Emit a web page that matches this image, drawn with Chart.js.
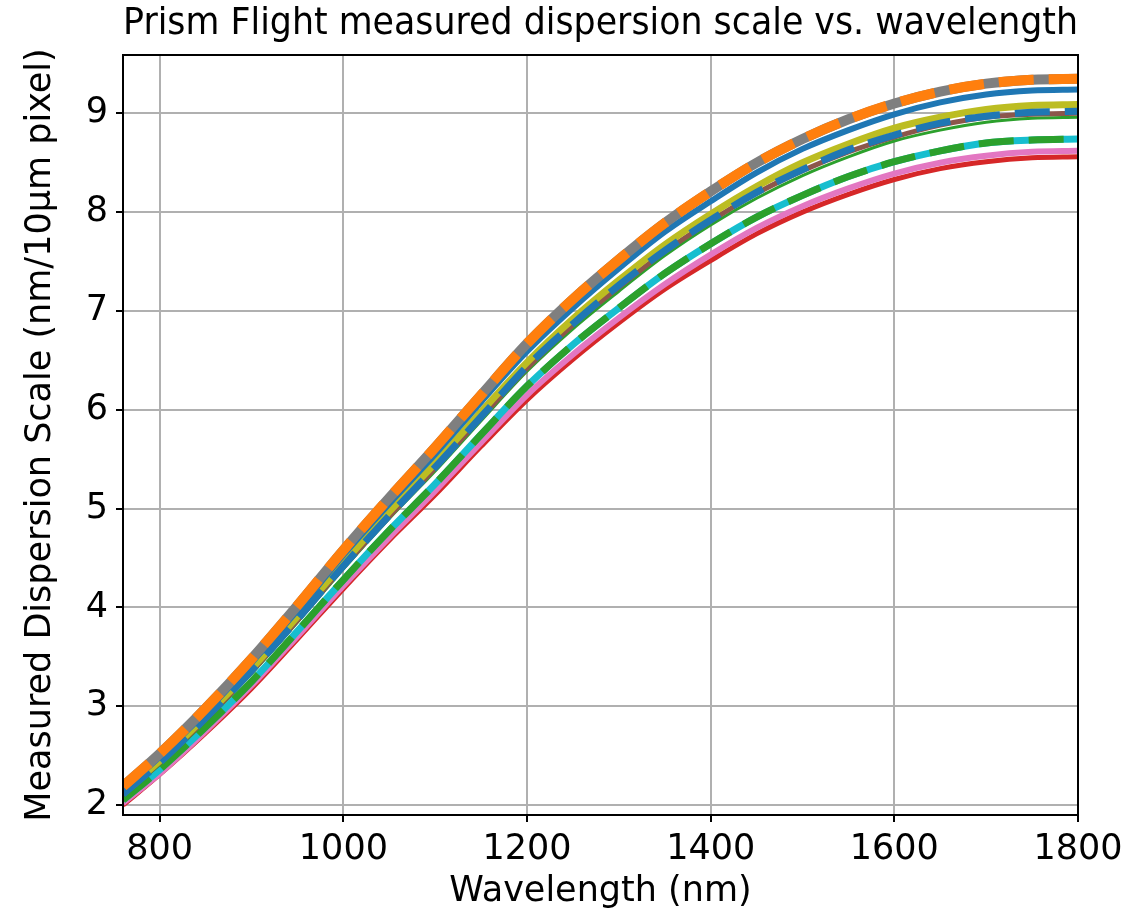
<!DOCTYPE html>
<html>
<head>
<meta charset="utf-8">
<script src="https://cdn.jsdelivr.net/npm/chart.js@4.4.1/dist/chart.umd.min.js"></script>
<style>
  html, body { margin: 0; padding: 0; background: #fff; }
  #wrap { width: 1135px; height: 918px; }
</style>
</head>
<body>
<div id="wrap"><canvas id="dispChart"></canvas></div>
<script>
// wavelength grid (nm)
const WAVELENGTH = [760, 800, 850, 900, 950, 1000, 1050, 1100, 1150, 1200, 1250, 1300, 1350, 1400, 1450, 1500, 1550, 1600, 1650, 1700, 1750, 1800];

// measured dispersion scale (nm / 10um pixel)
const grayMeas   = [2.19, 2.52, 2.98, 3.48, 4.02, 4.58, 5.11, 5.62, 6.15, 6.67, 7.12, 7.52, 7.89, 8.21, 8.50, 8.74, 8.94, 9.10, 9.22, 9.30, 9.34, 9.35];
const orangeFit  = [2.19, 2.52, 2.98, 3.48, 4.02, 4.58, 5.11, 5.62, 6.15, 6.67, 7.12, 7.52, 7.89, 8.21, 8.50, 8.74, 8.94, 9.10, 9.22, 9.30, 9.34, 9.35];
const blueMeas   = [2.16, 2.49, 2.94, 3.44, 3.97, 4.53, 5.05, 5.55, 6.08, 6.59, 7.03, 7.43, 7.80, 8.11, 8.40, 8.64, 8.83, 8.99, 9.11, 9.19, 9.23, 9.24];
const oliveMeas  = [2.13, 2.45, 2.90, 3.38, 3.91, 4.45, 4.97, 5.46, 5.98, 6.48, 6.92, 7.31, 7.67, 7.98, 8.26, 8.50, 8.69, 8.85, 8.96, 9.04, 9.08, 9.09];
const blueFit    = [2.11, 2.43, 2.88, 3.36, 3.88, 4.42, 4.93, 5.42, 5.93, 6.44, 6.87, 7.26, 7.61, 7.92, 8.20, 8.43, 8.63, 8.78, 8.90, 8.97, 9.01, 9.02];
const brownMeas  = [2.11, 2.43, 2.87, 3.35, 3.87, 4.41, 4.92, 5.41, 5.92, 6.42, 6.86, 7.24, 7.60, 7.91, 8.19, 8.42, 8.61, 8.76, 8.88, 8.96, 8.99, 9.00];
const greenMeas  = [2.10, 2.41, 2.85, 3.33, 3.85, 4.39, 4.90, 5.38, 5.89, 6.39, 6.82, 7.20, 7.56, 7.87, 8.14, 8.37, 8.56, 8.72, 8.83, 8.91, 8.95, 8.96];
const cyanMeas   = [2.05, 2.36, 2.79, 3.25, 3.76, 4.28, 4.78, 5.25, 5.75, 6.24, 6.66, 7.03, 7.38, 7.68, 7.95, 8.17, 8.36, 8.51, 8.62, 8.70, 8.73, 8.74];
const greenFit   = [2.05, 2.36, 2.79, 3.25, 3.76, 4.28, 4.78, 5.25, 5.75, 6.24, 6.66, 7.03, 7.38, 7.68, 7.95, 8.17, 8.36, 8.51, 8.62, 8.70, 8.73, 8.74];
const pinkMeas   = [2.02, 2.32, 2.75, 3.21, 3.71, 4.22, 4.71, 5.18, 5.67, 6.15, 6.56, 6.93, 7.27, 7.57, 7.84, 8.06, 8.24, 8.39, 8.50, 8.57, 8.61, 8.62];
const redMeas    = [2.00, 2.31, 2.73, 3.18, 3.68, 4.19, 4.68, 5.14, 5.63, 6.10, 6.51, 6.88, 7.22, 7.51, 7.78, 8.00, 8.18, 8.33, 8.44, 8.51, 8.55, 8.56];

const X_TICKS = [800, 1000, 1200, 1400, 1600, 1800];
const Y_TICKS = [2, 3, 4, 5, 6, 7, 8, 9];

const toPts = (arr) => WAVELENGTH.map((w, i) => ({ x: w, y: arr[i] }));

// drawing order: higher "order" is drawn first (underneath)
const series = [
    { data: redMeas,   color: '#d62728', width: 5,  dash: [],       order: 11 },
    { data: pinkMeas,  color: '#e377c2', width: 6,  dash: [],       order: 10 },
    { data: cyanMeas,  color: '#17becf', width: 7,  dash: [],       order: 9 },
    { data: greenFit,  color: '#2ca02c', width: 7,  dash: [35, 15], order: 8 },
    { data: greenMeas, color: '#2ca02c', width: 3,  dash: [],       order: 7 },
    { data: brownMeas, color: '#8c564b', width: 5,  dash: [],       order: 6 },
    { data: oliveMeas, color: '#bcbd22', width: 7,  dash: [],       order: 5 },
    { data: blueFit,   color: '#1f77b4', width: 7,  dash: [35, 15], order: 4 },
    { data: blueMeas,  color: '#1f77b4', width: 6,  dash: [],       order: 3 },
    { data: grayMeas,  color: '#7f7f7f', width: 10, dash: [],       order: 2 },
    { data: orangeFit, color: '#ff7f0e', width: 10, dash: [35, 15], order: 1 }
];

// full box around the axes, like a matplotlib frame
const frameBox = {
    id: 'frameBox',
    afterDatasetsDraw(chart) {
        const { ctx, chartArea: a } = chart;
        ctx.save();
        ctx.strokeStyle = '#000';
        ctx.lineWidth = 2;
        ctx.strokeRect(a.left, a.top, a.right - a.left, a.bottom - a.top);
        ctx.restore();
    }
};

const font = { family: "'DejaVu Sans', sans-serif", size: 35 };

new Chart(document.getElementById('dispChart'), {
    type: 'line',
    data: {
        datasets: series.map(s => ({
            data: toPts(s.data),
            borderColor: s.color,
            backgroundColor: s.color,
            borderWidth: s.width,
            borderDash: s.dash,
            borderCapStyle: 'butt',
            pointRadius: 0,
            fill: false,
            cubicInterpolationMode: 'monotone',
            clip: 0,
            order: s.order
        }))
    },
    options: {
        responsive: true,
        maintainAspectRatio: false,
        animation: false,
        layout: { padding: { left: 0, right: 57, top: 0, bottom: 0 } },
        plugins: {
            legend: { display: false },
            tooltip: { enabled: false },
            title: {
                display: true,
                fullSize: false,
                text: 'Prism Flight measured dispersion scale vs. wavelength',
                color: '#000',
                font: { family: font.family, size: 37.5, weight: 'normal' },
                padding: { top: 2, bottom: 8 }
            }
        },
        scales: {
            x: {
                type: 'linear',
                min: 760,
                max: 1800,
                afterBuildTicks: (scale) => { scale.ticks = X_TICKS.map(v => ({ value: v })); },
                afterFit: (scale) => { scale.height = 103; },
                ticks: { color: '#000', font, padding: 7, maxRotation: 0, callback: (v) => String(v) },
                grid: { color: '#b0b0b0', lineWidth: 2, tickColor: '#000', tickLength: 7 },
                border: { color: '#000', width: 2 },
                title: { display: true, text: 'Wavelength (nm)', color: '#000', font, padding: 5 }
            },
            y: {
                min: 1.9,
                max: 9.59,
                afterBuildTicks: (scale) => { scale.ticks = Y_TICKS.map(v => ({ value: v })); },
                afterFit: (scale) => { scale.width = 123; },
                ticks: { color: '#000', font, padding: 8, callback: (v) => String(v) },
                grid: { color: '#b0b0b0', lineWidth: 2, tickColor: '#000', tickLength: 7 },
                border: { color: '#000', width: 2 },
                title: { display: true, text: 'Measured Dispersion Scale (nm/10μm pixel)', color: '#000', font, padding: 20 }
            }
        }
    },
    plugins: [frameBox]
});
</script>
</body>
</html>
